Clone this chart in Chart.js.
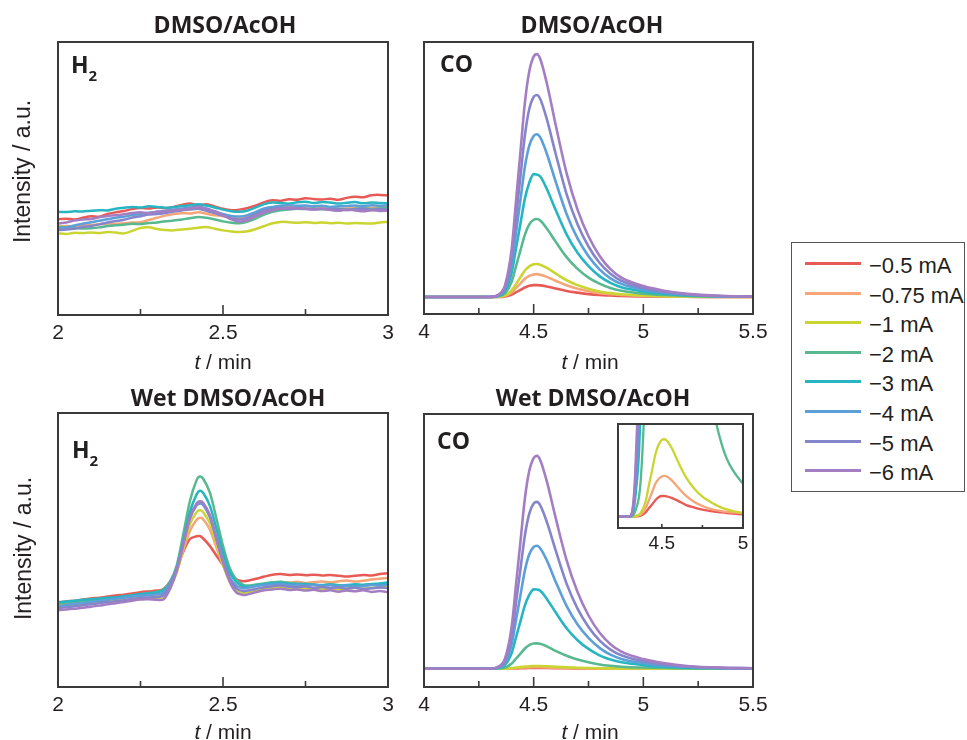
<!DOCTYPE html>
<html>
<head>
<meta charset="utf-8">
<script src="https://cdn.jsdelivr.net/npm/chart.js@4.4.1/dist/chart.umd.min.js"></script>
<style>
  body { margin: 0; background: #fff; }
  #fig { position: relative; width: 967px; height: 740px; overflow: hidden; background: #fff;
         font-family: "Liberation Sans", Arial, sans-serif; color: #231f20; }
  #fig canvas { position: absolute; }
  .title { position: absolute; font-family: "Open Sans", sans-serif; font-weight: 700; font-size: 23px;
           line-height: 23px; white-space: nowrap; transform: translateX(-50%); }
  .gas { position: absolute; font-family: "Open Sans", sans-serif; font-weight: 700; font-size: 23px;
         line-height: 23px; white-space: nowrap; z-index: 3; }
  .gas span { position: relative; top: 8px; font-size: 15px; margin-left: 0; }
  .xlab { position: absolute; font-size: 21px; line-height: 21px; white-space: nowrap; transform: translateX(-50%); }
  .ylab { position: absolute; width: 200px; height: 23px; font-size: 23px; line-height: 23px;
          text-align: center; white-space: nowrap; transform: rotate(-90deg); }
  #legend { position: absolute; left: 791px; top: 242px; width: 174px; height: 250px;
            border: 1.5px solid #555; box-sizing: border-box; }
  .key { position: absolute; height: 3px; width: 56px; }
  .keytext { position: absolute; font-size: 22px; line-height: 22px; white-space: nowrap; }
</style>
</head>
<body>
<div id="fig">
  <canvas id="dryH2"></canvas>
  <canvas id="dryCO"></canvas>
  <canvas id="wetH2"></canvas>
  <canvas id="wetCO"></canvas>
  <canvas id="wetCOzoom"></canvas>

  <div class="title" style="left:225px; top:13px;">DMSO/AcOH</div>
  <div class="title" style="left:592px; top:13px;">DMSO/AcOH</div>
  <div class="title" style="left:228px; top:386px;">Wet DMSO/AcOH</div>
  <div class="title" style="left:593px; top:386px;">Wet DMSO/AcOH</div>

  <div class="gas" style="left:71px; top:53px;">H<span>2</span></div>
  <div class="gas" style="left:440px; top:52px;">CO</div>
  <div class="gas" style="left:72px; top:438px;">H<span>2</span></div>
  <div class="gas" style="left:437px; top:429px;">CO</div>

  <div class="xlab" style="left:223px; top:351px;"><i>t</i> / min</div>
  <div class="xlab" style="left:590px; top:351px;"><i>t</i> / min</div>
  <div class="xlab" style="left:223px; top:721px;"><i>t</i> / min</div>
  <div class="xlab" style="left:590px; top:721px;"><i>t</i> / min</div>

  <div class="ylab" style="left:-78px; top:160px;">Intensity / a.u.</div>
  <div class="ylab" style="left:-77px; top:537px;">Intensity / a.u.</div>

  <div id="legend"></div>
</div>

<script>
// current steps, one trace per step
const seriesLabels = ['−0.5 mA', '−0.75 mA', '−1 mA', '−2 mA', '−3 mA', '−4 mA', '−5 mA', '−6 mA'];
const seriesColors = ['#e85a55', '#f5a577', '#cbd531', '#58b990', '#27b5c2', '#5c9fd9', '#8585cc', '#a47ec2'];

// H2 window, dry solvent (t in min, intensity in a.u.)
const tH2Dry = [2, 2.025, 2.05, 2.075, 2.1, 2.125, 2.15, 2.175, 2.2, 2.225, 2.25, 2.275, 2.3, 2.325,
  2.35, 2.375, 2.4, 2.425, 2.45, 2.475, 2.5, 2.525, 2.55, 2.575, 2.6, 2.625, 2.65, 2.675, 2.7, 2.725,
  2.75, 2.775, 2.8, 2.825, 2.85, 2.875, 2.9, 2.925, 2.95, 2.975, 3];
const h2Dry = [
  [35.1, 35.3, 35.0, 35.6, 36.2, 36.0, 37.0, 37.6, 38.1, 38.8, 39.2, 39.0, 39.4, 39.1, 39.6, 40.3, 40.8, 40.2, 40.6, 39.8, 38.9, 38.4, 38.6, 39.2, 40.1, 41.3, 42.0, 41.8, 42.4, 42.2, 42.8, 42.5, 42.3, 42.6, 42.2, 42.9, 43.3, 43.1, 43.9, 44.0, 43.8],
  [32.3, 32.6, 32.5, 32.8, 33.0, 33.2, 33.5, 33.3, 33.6, 33.9, 34.0, 34.8, 35.6, 36.4, 37.0, 37.3, 37.2, 37.6, 37.1, 36.5, 36.2, 36.0, 35.7, 36.4, 37.6, 38.6, 39.3, 39.7, 39.5, 39.8, 39.9, 39.6, 39.4, 39.1, 38.9, 39.0, 39.3, 39.0, 39.3, 39.5, 39.4],
  [29.9, 29.7, 30.1, 30.0, 30.2, 30.0, 30.4, 30.2, 29.9, 30.8, 31.9, 32.1, 31.5, 31.1, 31.0, 31.3, 31.6, 32.0, 32.2, 31.6, 31.0, 30.6, 30.4, 30.7, 31.5, 32.6, 33.6, 34.1, 34.0, 33.8, 34.0, 33.7, 33.9, 33.6, 33.8, 33.5, 33.7, 33.6, 33.5, 33.9, 34.1],
  [32.3, 32.0, 31.9, 31.7, 31.8, 32.1, 32.6, 32.9, 33.1, 33.4, 33.3, 33.7, 33.9, 34.3, 34.6, 35.0, 35.4, 35.9, 35.6, 35.0, 34.3, 33.8, 33.6, 34.2, 35.4, 36.8, 37.8, 38.4, 38.7, 38.9, 38.8, 39.0, 38.7, 39.1, 38.9, 38.6, 38.9, 39.1, 38.8, 39.0, 39.1],
  [37.8, 37.7, 38.0, 37.9, 38.2, 38.4, 38.3, 38.9, 39.3, 39.6, 39.4, 39.8, 39.6, 39.3, 39.5, 39.9, 40.2, 40.6, 40.1, 39.4, 38.6, 38.0, 37.8, 38.3, 39.4, 40.6, 41.2, 41.0, 40.8, 41.3, 41.5, 41.0, 41.4, 41.2, 40.8, 41.1, 41.4, 40.9, 41.2, 41.0, 40.9],
  [31.7, 32.1, 32.8, 33.4, 34.0, 34.5, 35.1, 35.6, 36.0, 36.6, 37.0, 37.5, 37.8, 38.2, 38.6, 39.0, 39.4, 39.7, 39.0, 38.0, 37.0, 36.3, 36.1, 36.6, 37.8, 39.0, 39.6, 40.0, 40.2, 40.0, 40.1, 39.8, 40.0, 39.6, 39.8, 39.9, 40.1, 39.8, 40.2, 40.0, 40.2],
  [31.1, 31.3, 31.6, 32.2, 32.6, 33.2, 33.9, 34.4, 34.9, 35.7, 36.2, 36.8, 37.0, 37.4, 37.9, 38.3, 38.6, 38.9, 38.2, 37.3, 36.4, 35.4, 35.0, 35.6, 36.9, 38.2, 38.8, 39.2, 38.8, 39.1, 39.0, 38.7, 38.9, 38.6, 38.8, 38.4, 38.7, 38.9, 38.5, 38.8, 38.6],
  [33.5, 33.9, 34.6, 35.0, 35.2, 35.8, 36.3, 36.5, 36.9, 37.4, 37.6, 37.3, 37.8, 38.0, 38.4, 38.6, 39.0, 39.6, 38.8, 37.9, 36.6, 35.0, 34.2, 34.8, 36.2, 37.4, 38.4, 38.9, 39.3, 39.0, 38.9, 38.6, 38.9, 38.5, 38.2, 38.6, 38.3, 38.0, 38.4, 38.1, 38.2]
];

// H2 window, wet solvent (denser sampling across the peak)
const tH2Wet = [2, 2.025, 2.05, 2.075, 2.1, 2.125, 2.15, 2.175, 2.2, 2.225, 2.25, 2.275, 2.3,
  2.32, 2.34, 2.36, 2.38, 2.4, 2.42, 2.43, 2.44, 2.46, 2.48, 2.5, 2.52, 2.54, 2.56,
  2.575, 2.6, 2.625, 2.65, 2.675, 2.7, 2.725, 2.75, 2.775, 2.8, 2.825, 2.85, 2.875, 2.9, 2.925, 2.95, 2.975, 3];
const h2Wet = [
  [30.8, 31.2, 31.5, 31.9, 32.3, 32.6, 33.0, 33.4, 33.7, 34.1, 34.6, 34.9, 35.2, 35.8, 38.5, 43.5, 49.5, 54.0, 55.0, 55.1, 54.2, 51.5, 48.0, 44.5, 41.5, 39.3, 38.6, 38.8, 39.5, 40.3, 41.0, 41.2, 40.9, 41.1, 40.8, 41.0, 40.7, 40.9, 40.6, 40.3, 40.6, 40.9, 40.7, 41.2, 41.5],
  [30.0, 30.3, 30.5, 30.9, 31.2, 31.6, 31.9, 32.3, 32.6, 32.9, 33.2, 33.5, 33.7, 34.3, 37.0, 42.0, 50.0, 57.0, 61.0, 61.8, 61.2, 57.5, 51.0, 44.5, 39.5, 37.0, 36.3, 36.5, 37.0, 37.6, 38.0, 38.3, 38.1, 38.4, 38.0, 38.3, 38.5, 38.2, 38.6, 38.9, 38.5, 38.8, 39.2, 39.5, 39.8],
  [29.5, 29.8, 30.0, 30.3, 30.6, 30.8, 31.2, 31.5, 31.8, 32.0, 32.2, 32.3, 32.0, 32.5, 36.0, 42.0, 51.0, 59.5, 63.8, 64.5, 63.8, 59.8, 52.0, 44.5, 38.5, 35.0, 34.3, 34.6, 35.3, 35.9, 36.2, 36.4, 36.0, 36.2, 35.8, 36.1, 35.7, 36.0, 35.6, 35.9, 36.2, 35.8, 36.1, 36.4, 36.6],
  [30.5, 30.8, 31.0, 31.4, 31.6, 32.0, 32.4, 32.6, 33.0, 33.4, 33.8, 34.3, 34.8, 35.6, 38.5, 44.5, 56.0, 68.0, 75.5, 76.8, 76.0, 71.0, 61.5, 51.5, 43.5, 39.2, 37.4, 37.0, 37.4, 37.8, 38.2, 38.4, 38.0, 37.8, 37.6, 37.4, 37.2, 37.5, 37.2, 36.9, 37.2, 36.8, 37.3, 37.6, 37.9],
  [31.0, 31.2, 31.5, 31.8, 32.0, 32.3, 32.6, 32.8, 33.1, 33.5, 33.9, 34.2, 34.5, 35.3, 38.0, 43.5, 53.5, 64.0, 70.3, 71.6, 70.8, 66.2, 57.8, 49.0, 42.0, 38.4, 36.8, 36.5, 37.0, 37.5, 37.9, 38.0, 37.7, 37.4, 37.6, 37.3, 37.1, 37.4, 37.0, 37.2, 37.5, 37.3, 37.6, 37.8, 38.2],
  [29.5, 29.9, 30.3, 30.6, 31.0, 31.4, 31.8, 32.2, 32.6, 33.0, 33.3, 33.6, 33.8, 34.5, 37.8, 43.5, 53.0, 62.0, 66.3, 67.0, 66.4, 62.0, 54.0, 46.0, 40.0, 37.0, 36.0, 36.2, 36.8, 37.2, 37.5, 37.6, 37.2, 37.4, 37.0, 37.3, 36.9, 37.1, 36.7, 37.0, 36.6, 36.9, 37.2, 37.0, 37.4],
  [28.8, 29.1, 29.5, 29.8, 30.2, 30.6, 31.0, 31.3, 31.7, 32.1, 32.5, 32.7, 32.8, 33.5, 37.0, 43.0, 52.5, 62.0, 67.0, 67.8, 67.2, 62.8, 54.5, 46.0, 39.5, 36.0, 35.0, 35.2, 35.8, 36.4, 36.8, 37.0, 36.6, 36.4, 36.7, 36.2, 36.5, 36.1, 36.3, 35.9, 36.2, 35.8, 36.0, 36.3, 36.1],
  [28.0, 28.3, 28.6, 28.9, 29.3, 29.7, 30.2, 30.6, 31.0, 31.5, 31.9, 32.0, 31.8, 32.0, 36.0, 42.5, 52.0, 61.5, 66.5, 67.5, 67.0, 62.5, 54.0, 45.5, 38.5, 34.5, 33.6, 33.8, 34.6, 35.3, 35.6, 35.9, 35.4, 35.6, 35.2, 35.5, 35.0, 35.3, 34.8, 35.2, 34.9, 35.3, 34.7, 35.0, 34.6]
];

// CO window, both solvents share the time base
const tCO = [4, 4.3, 4.34, 4.37, 4.4, 4.42, 4.44, 4.46, 4.48, 4.5, 4.515, 4.53, 4.56, 4.6, 4.65,
  4.7, 4.75, 4.8, 4.85, 4.9, 5, 5.1, 5.2, 5.35, 5.5];
const coDry = [
  [0, 0, 0, 0.2, 1, 2, 2.9, 3.9, 4.6, 4.9, 4.9, 4.8, 4.3, 3.5, 2.5, 1.8, 1.2, 0.8, 0.6, 0.4, 0.2, 0.1, 0.1, 0, 0],
  [0, 0, 0.1, 0.5, 1.9, 3.8, 5.6, 7.5, 8.7, 9.3, 9.4, 9.2, 8.3, 6.7, 4.8, 3.4, 2.4, 1.6, 1.1, 0.8, 0.4, 0.2, 0.1, 0, 0],
  [0, 0, 0.1, 0.7, 2.7, 5.4, 8.2, 10.9, 12.6, 13.5, 13.6, 13.3, 12.0, 9.7, 6.9, 4.9, 3.4, 2.3, 1.6, 1.1, 0.6, 0.3, 0.2, 0.1, 0],
  [0, 0, 0.3, 1.6, 6.4, 12.8, 19.3, 25.7, 29.9, 31.8, 32.1, 31.5, 28.2, 22.8, 16.4, 11.6, 8.0, 5.5, 3.7, 2.6, 1.4, 0.8, 0.4, 0.2, 0.1],
  [0, 0, 0.5, 2.5, 10.1, 20.2, 30.4, 40.5, 47.1, 50.6, 50.4, 49.6, 44.5, 35.9, 25.8, 18.2, 12.7, 8.6, 5.8, 4.0, 2.3, 1.3, 0.7, 0.3, 0.1],
  [0, 0, 0.7, 3.4, 13.4, 26.8, 40.2, 53.6, 62.3, 66.3, 67.0, 65.7, 59.0, 47.6, 34.2, 24.1, 16.8, 11.4, 7.7, 5.4, 3.0, 1.7, 0.9, 0.3, 0.1],
  [0, 0, 0.8, 4.2, 16.6, 33.3, 49.9, 66.6, 77.4, 82.4, 83.2, 81.5, 73.2, 59.1, 42.4, 30.0, 20.8, 14.1, 9.6, 6.7, 3.7, 2.1, 1.1, 0.4, 0.2],
  [0, 0, 1, 5, 20, 40, 60, 80, 93, 99, 100, 98, 88, 71, 51, 36, 25, 17, 11.5, 8, 4.5, 2.5, 1.3, 0.5, 0.2]
];
const coWet = [
  [0, 0, 0.004, 0.018, 0.07, 0.14, 0.2, 0.27, 0.32, 0.34, 0.34, 0.335, 0.31, 0.26, 0.19, 0.15, 0.115, 0.09, 0.075, 0.06, 0.04, 0.025, 0.013, 0.005, 0.002],
  [0, 0, 0.007, 0.035, 0.14, 0.27, 0.4, 0.54, 0.62, 0.66, 0.67, 0.66, 0.6, 0.48, 0.34, 0.24, 0.175, 0.13, 0.1, 0.08, 0.06, 0.035, 0.018, 0.007, 0.003],
  [0, 0, 0.013, 0.064, 0.25, 0.51, 0.76, 1.02, 1.18, 1.26, 1.27, 1.25, 1.13, 0.9, 0.64, 0.46, 0.33, 0.24, 0.17, 0.12, 0.06, 0.03, 0.015, 0.006, 0.003],
  [0, 0, 0.12, 0.6, 2.4, 4.8, 7.1, 9.5, 11.1, 11.8, 11.9, 11.7, 10.5, 8.4, 6.1, 4.3, 3.0, 2.0, 1.37, 0.95, 0.54, 0.3, 0.15, 0.06, 0.02],
  [0, 0, 0.4, 1.9, 7.5, 14.9, 22.4, 29.8, 34.7, 37.3, 37.2, 36.6, 32.8, 26.5, 19.0, 13.4, 9.3, 6.3, 4.3, 3.0, 1.7, 0.9, 0.5, 0.2, 0.1],
  [0, 0, 0.6, 2.9, 11.6, 23.1, 34.7, 46.2, 53.8, 57.2, 57.8, 56.6, 50.9, 41.0, 29.5, 20.8, 14.5, 9.8, 6.6, 4.6, 2.6, 1.4, 0.8, 0.3, 0.1],
  [0, 0, 0.8, 3.9, 15.7, 31.4, 47.0, 62.7, 72.9, 77.6, 78.4, 76.8, 69.0, 55.7, 40.0, 28.2, 19.6, 13.3, 9.0, 6.3, 3.5, 2.0, 1.0, 0.4, 0.2],
  [0, 0, 1, 5, 20, 40, 60, 80, 93, 99, 100, 98, 88, 71, 51, 36, 25, 17, 11.5, 8, 4.5, 2.5, 1.3, 0.5, 0.2]
];

// axis ticks: labelled values, long inner marks, short inner marks
const h2Labels = [2, 2.5, 3];
const h2Major = [2.5];
const h2Minor = [2.25, 2.75];
const coLabels = [4, 4.5, 5, 5.5];
const coMajor = [4.5, 5];
const coMinor = [4.25, 4.75, 5.25];
const zoomLabels = [4.5, 5];
const zoomMajor = [4.5];
const zoomMinor = [4.75];

const FRAME = '#3a3a3a';
const INK = '#231f20';
const PAD_L = 28, PAD_R = 28, PAD_T = 6;

// short tick marks pointing into the plot from the bottom frame
const innerTicks = {
  id: 'innerTicks',
  afterDatasetsDraw(chart, args, opts) {
    const { ctx, chartArea: area, scales: { x } } = chart;
    ctx.save();
    ctx.strokeStyle = FRAME;
    ctx.lineWidth = 1.6;
    const mark = (v, len) => {
      const px = x.getPixelForValue(v);
      ctx.beginPath();
      ctx.moveTo(px, area.bottom);
      ctx.lineTo(px, area.bottom - len);
      ctx.stroke();
    };
    opts.major.forEach(v => mark(v, opts.majorLen));
    opts.minor.forEach(v => mark(v, opts.minorLen));
    ctx.restore();
  }
};

function frameAxis(position) {
  return {
    type: 'linear', position, display: true,
    grid: { display: false, drawTicks: false },
    ticks: { display: false },
    border: { display: true, color: FRAME, width: 2, z: 1 }
  };
}

function makePanel(id, box, times, rows, o) {
  const canvas = document.getElementById(id);
  const axisH = o.fontSize + 2 * o.pad;
  canvas.width = box.r - box.l + PAD_L + PAD_R;
  canvas.height = PAD_T + (box.b - box.t) + axisH;
  canvas.style.left = (box.l - PAD_L) + 'px';
  canvas.style.top = (box.t - PAD_T) + 'px';
  if (o.z) canvas.style.zIndex = o.z;

  return new Chart(canvas, {
    type: 'line',
    data: {
      datasets: rows.map((vals, i) => ({
        label: seriesLabels[i],
        data: times.map((t, k) => ({ x: t, y: vals[k] })),
        xAxisID: 'x',
        yAxisID: 'y',
        borderColor: seriesColors[i],
        borderWidth: o.lineWidth,
        pointRadius: 0,
        tension: o.tension,
        cubicInterpolationMode: o.monotone ? 'monotone' : 'default',
        order: rows.length - i
      }))
    },
    options: {
      responsive: false,
      animation: false,
      devicePixelRatio: 1,
      layout: { padding: { left: PAD_L, right: PAD_R, top: PAD_T, bottom: 0 } },
      plugins: {
        legend: { display: false },
        tooltip: { enabled: false },
        innerTicks: { major: o.major, minor: o.minor, majorLen: o.majorLen, minorLen: o.minorLen }
      },
      scales: {
        x: {
          type: 'linear', position: 'bottom', min: o.xMin, max: o.xMax,
          afterBuildTicks: s => { s.ticks = o.labels.map(v => ({ value: v })); },
          grid: { display: false, drawTicks: false },
          border: { display: true, color: FRAME, width: 2, z: 1 },
          ticks: {
            padding: o.pad, color: INK, autoSkip: false, maxRotation: 0,
            callback: v => String(v),
            font: { family: '"Liberation Sans", Arial, sans-serif', size: o.fontSize, lineHeight: 1 }
          }
        },
        xTop: frameAxis('top'),
        y: {
          type: 'linear', position: 'left', min: o.yMin, max: o.yMax,
          grid: { display: false, drawTicks: false },
          ticks: { display: false },
          border: { display: true, color: FRAME, width: 2, z: 1 }
        },
        yRight: frameAxis('right')
      }
    },
    plugins: [innerTicks]
  });
}

const h2Opts = { xMin: 2, xMax: 3, yMin: 0, yMax: 100, labels: h2Labels, major: h2Major, minor: h2Minor,
  majorLen: 10, minorLen: 6, fontSize: 21, pad: 8, lineWidth: 2.5, tension: 0.3, monotone: false };
const coOpts = { xMin: 4, xMax: 5.5, labels: coLabels, major: coMajor, minor: coMinor,
  majorLen: 10, minorLen: 6, fontSize: 21, pad: 8, lineWidth: 2.6, tension: 0, monotone: true };

makePanel('dryH2', { l: 58, t: 42, r: 388, b: 315 }, tH2Dry, h2Dry, h2Opts);
makePanel('dryCO', { l: 424, t: 42, r: 753, b: 314 }, tCO, coDry, { ...coOpts, yMin: -7, yMax: 105 });
makePanel('wetH2', { l: 58, t: 413, r: 388, b: 687 }, tH2Wet, h2Wet, h2Opts);
makePanel('wetCO', { l: 424, t: 414, r: 753, b: 687 }, tCO, coWet, { ...coOpts, yMin: -8.6, yMax: 119.7 });
makePanel('wetCOzoom', { l: 618, t: 424, r: 743, b: 528 }, tCO, coWet, {
  xMin: 4.23, xMax: 5, yMin: -0.185, yMax: 1.52, labels: zoomLabels, major: zoomMajor, minor: zoomMinor,
  majorLen: 4, minorLen: 3, fontSize: 19, pad: 6, lineWidth: 2.3, tension: 0, monotone: true, z: 2
});

// shared legend for all four panels
const legend = document.getElementById('legend');
seriesLabels.forEach((label, i) => {
  const y = 262.5 + i * 29.6 - 242;
  const key = document.createElement('div');
  key.className = 'key';
  key.style.background = seriesColors[i];
  key.style.left = (804 - 791) + 'px';
  key.style.top = (y - 1.5) + 'px';
  legend.appendChild(key);
  const text = document.createElement('div');
  text.className = 'keytext';
  text.textContent = label;
  text.style.left = (868 - 791) + 'px';
  text.style.top = (y - 8.6) + 'px';
  legend.appendChild(text);
});
</script>
</body>
</html>
